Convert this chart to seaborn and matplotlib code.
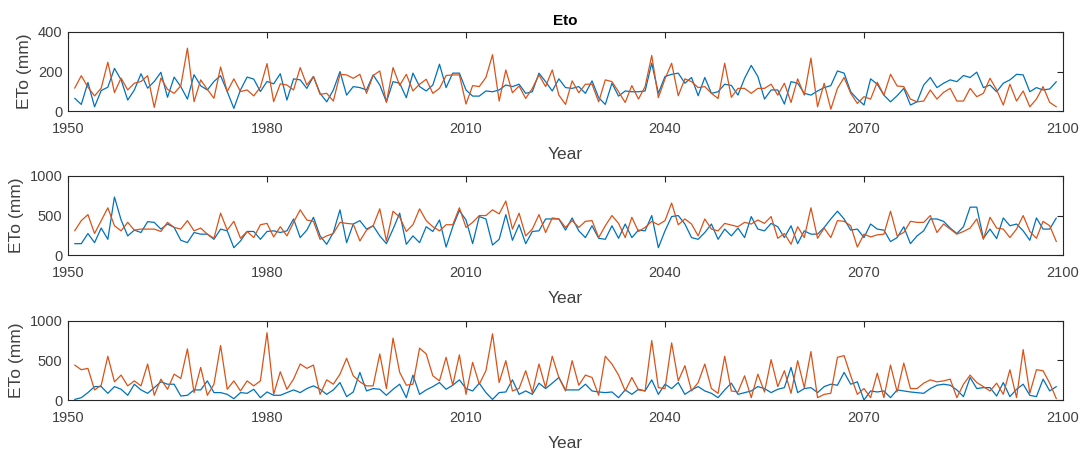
import numpy as np
import pandas as pd
import seaborn as sns
import matplotlib
matplotlib.use("Agg")
import matplotlib.pyplot as plt

# anos
anos = np.arange(1951, 2100)

# painel 1
p1_azul = [65, 34, 145, 22, 104, 121, 216, 158, 56, 107,
           189, 116, 150, 196, 70, 172, 124, 61, 184, 128,
           107, 150, 179, 99, 14, 107, 172, 162, 99, 150,
           138, 189, 56, 163, 158, 115, 175, 90, 47, 107,
           200, 81, 124, 119, 107, 183, 132, 47, 149, 141,
           68, 192, 124, 102, 132, 237, 119, 192, 192, 107,
           76, 76, 102, 98, 107, 132, 124, 136, 90, 98,
           192, 149, 102, 163, 119, 115, 124, 90, 153, 68,
           34, 141, 76, 102, 98, 98, 102, 242, 90, 175,
           186, 192, 141, 170, 78, 170, 90, 98, 136, 130,
           81, 166, 231, 175, 61, 107, 107, 36, 149, 141,
           90, 81, 102, 119, 129, 203, 192, 98, 61, 31,
           163, 136, 81, 47, 78, 115, 31, 47, 132, 170,
           119, 141, 158, 149, 180, 170, 197, 119, 132, 98,
           141, 158, 186, 183, 98, 119, 107, 112, 149]
p1_laranja = [116, 179, 121, 77, 116, 247, 94, 167, 107, 141,
              150, 179, 19, 167, 110, 90, 128, 318, 48, 158,
              110, 65, 223, 99, 163, 99, 107, 77, 121, 240,
              48, 138, 132, 107, 220, 132, 175, 85, 90, 51,
              186, 183, 166, 186, 90, 180, 203, 44, 220, 130,
              186, 102, 136, 161, 90, 115, 180, 183, 183, 36,
              129, 124, 170, 285, 51, 208, 93, 127, 64, 115,
              183, 124, 208, 81, 34, 153, 93, 136, 136, 47,
              158, 149, 98, 44, 129, 61, 124, 281, 68, 163,
              242, 78, 163, 149, 119, 124, 90, 64, 242, 70,
              115, 115, 90, 115, 115, 136, 81, 141, 44, 163,
              81, 268, 22, 141, 10, 115, 170, 90, 39, 73,
              61, 146, 81, 186, 127, 124, 61, 47, 51, 107,
              61, 95, 115, 51, 51, 115, 73, 90, 166, 107,
              31, 136, 51, 102, 22, 61, 124, 44, 22]

# painel 2
p2_azul = [145, 145, 273, 158, 342, 200, 734, 444, 243, 316,
           286, 423, 414, 329, 393, 350, 188, 158, 286, 265,
           265, 200, 329, 307, 94, 179, 299, 299, 200, 299,
           307, 286, 307, 457, 222, 316, 478, 243, 137, 286,
           572, 158, 393, 436, 329, 371, 243, 145, 329, 530,
           137, 243, 158, 359, 299, 444, 102, 359, 564, 444,
           145, 487, 457, 128, 200, 512, 188, 384, 145, 299,
           307, 457, 457, 457, 316, 470, 307, 222, 371, 213,
           200, 371, 213, 393, 222, 316, 307, 500, 94, 307,
           487, 500, 393, 222, 200, 286, 393, 200, 329, 243,
           342, 222, 487, 329, 307, 401, 359, 222, 371, 145,
           307, 265, 265, 350, 457, 555, 457, 316, 329, 222,
           393, 329, 316, 171, 222, 359, 145, 243, 307, 457,
           457, 427, 342, 273, 359, 606, 606, 213, 329, 209,
           470, 371, 393, 307, 188, 470, 329, 329, 470]
p2_laranja = [307, 436, 512, 273, 436, 598, 371, 307, 414, 316,
              329, 329, 329, 299, 414, 350, 329, 436, 307, 342,
              265, 213, 530, 316, 427, 213, 299, 222, 384, 401,
              230, 359, 243, 414, 572, 444, 427, 200, 243, 273,
              414, 401, 393, 179, 316, 371, 585, 179, 555, 480,
              299, 384, 585, 436, 359, 307, 384, 384, 598, 350,
              414, 500, 500, 572, 521, 683, 329, 530, 243, 329,
              512, 286, 470, 457, 350, 436, 350, 427, 436, 222,
              371, 500, 401, 222, 478, 299, 350, 427, 384, 436,
              658, 384, 457, 393, 243, 457, 329, 307, 401, 380,
              359, 414, 393, 444, 401, 487, 213, 273, 137, 359,
              222, 598, 213, 342, 222, 436, 427, 371, 102, 265,
              230, 256, 265, 555, 243, 286, 427, 414, 414, 500,
              286, 393, 329, 265, 299, 342, 457, 200, 478, 342,
              329, 222, 329, 500, 299, 213, 427, 371, 171]

# painel 3
p3_azul = [8, 30, 94, 170, 170, 85, 170, 136, 60, 200,
           128, 85, 157, 230, 200, 200, 51, 60, 128, 128,
           242, 94, 94, 72, 17, 94, 85, 136, 30, 102,
           60, 60, 94, 128, 94, 145, 179, 136, 72, 128,
           221, 43, 102, 349, 115, 145, 136, 60, 136, 200,
           30, 315, 72, 128, 170, 221, 136, 187, 255, 145,
           115, 213, 94, 8, 94, 102, 255, 72, 115, 72,
           213, 145, 213, 285, 128, 128, 128, 200, 115, 102,
           94, 102, 30, 128, 72, 136, 115, 255, 72, 200,
           145, 221, 72, 128, 170, 115, 85, 30, 128, 213,
           72, 94, 115, 170, 145, 94, 136, 157, 412, 94,
           145, 157, 94, 170, 200, 187, 349, 200, 230, 0,
           115, 102, 115, 30, 128, 115, 102, 94, 85, 145,
           187, 200, 187, 128, 43, 285, 145, 157, 157, 51,
           221, 43, 136, 200, 60, 43, 264, 115, 170]
p3_laranja = [442, 383, 400, 128, 187, 553, 230, 315, 179, 242,
              179, 455, 60, 264, 136, 327, 272, 646, 94, 412,
              60, 200, 689, 136, 242, 115, 242, 179, 242, 850,
              72, 357, 136, 264, 455, 400, 442, 72, 255, 200,
              327, 527, 306, 230, 179, 179, 582, 145, 782, 350,
              187, 200, 655, 582, 306, 242, 540, 187, 570, 72,
              476, 200, 370, 837, 221, 497, 115, 145, 370, 94,
              455, 157, 553, 285, 115, 497, 187, 315, 285, 60,
              553, 455, 315, 115, 285, 128, 115, 752, 157, 145,
              722, 242, 434, 115, 221, 455, 145, 85, 553, 115,
              102, 306, 30, 327, 102, 510, 170, 370, 85, 497,
              157, 612, 30, 72, 85, 540, 561, 306, 72, 145,
              30, 340, 30, 442, 102, 467, 145, 145, 213, 255,
              230, 242, 264, 30, 200, 315, 221, 170, 115, 213,
              72, 383, 30, 637, 85, 383, 370, 213, 17]

sns.set_style("white")
plt.rcParams['font.family'] = ['Liberation Sans', 'DejaVu Sans']

cinza = '#262626'
cinza_txt = '#404040'
azul = '#0072BD'
laranja = '#D95319'

fig = plt.figure(figsize=(10.85, 4.5), dpi=100)
posicoes = [[0.0627, 0.753, 0.917, 0.176],
            [0.0627, 0.433, 0.917, 0.176],
            [0.0627, 0.111, 0.917, 0.176]]
paineis = [(p1_azul, p1_laranja, 400, [0, 200, 400]),
           (p2_azul, p2_laranja, 1000, [0, 500, 1000]),
           (p3_azul, p3_laranja, 1000, [0, 500, 1000])]

for i, (az, la, ymax, yt) in enumerate(paineis):
    ax = fig.add_axes(posicoes[i])
    df = pd.DataFrame({'Year': anos, 'a': az, 'b': la})
    sns.lineplot(data=df, x='Year', y='a', color=azul, lw=0.9, ax=ax)
    sns.lineplot(data=df, x='Year', y='b', color=laranja, lw=0.9, ax=ax)
    ax.set_xlim(1950, 2100)
    ax.set_ylim(0, ymax)
    ax.set_xticks([1950, 1980, 2010, 2040, 2070, 2100])
    ax.set_yticks(yt)
    ax.tick_params(direction='in', top=True, right=True, length=4,
                   width=0.8, color=cinza, labelcolor=cinza_txt, labelsize=10.5)
    ax.tick_params(axis='x', pad=8)
    ax.tick_params(axis='y', pad=4)
    for s in ax.spines.values():
        s.set_color(cinza)
        s.set_linewidth(0.8)
    ax.set_xlabel('Year', fontsize=12.5, color=cinza_txt, labelpad=8)
    ax.set_ylabel('ETo (mm)', fontsize=12.5, color=cinza_txt, labelpad=4)
    if i == 0:
        ax.set_title('Eto', fontsize=11, fontweight='bold', color='black', pad=5)

fig.savefig('out.png', dpi=100)
